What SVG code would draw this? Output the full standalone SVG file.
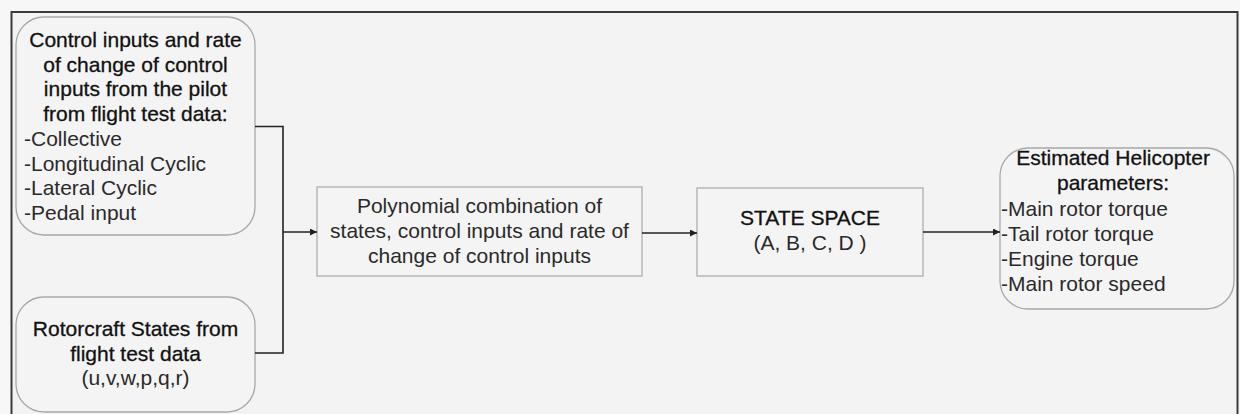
<svg xmlns="http://www.w3.org/2000/svg" width="1240" height="414" viewBox="0 0 1240 414">
<defs>
<style>
.bg{fill:#f7f7f7}
.frame{fill:#f3f3f3;stroke:#3a3a3a;stroke-width:2}
.rnode{fill:#f4f4f4;stroke:#a8a8a8;stroke-width:1.3}
.box{fill:#f4f4f4;stroke:#a8a8a8;stroke-width:1.2}
text{font-family:"Liberation Sans",Arial,sans-serif;font-size:21px;fill:#2a2a2a}
.h{fill:#111;stroke:#111;stroke-width:0.3}
.c{text-anchor:middle}
.conn{fill:none;stroke:#222;stroke-width:1.6}
</style>
<marker id="arr" viewBox="0 0 10 10" refX="10" refY="5" markerWidth="7" markerHeight="7" markerUnits="userSpaceOnUse" orient="auto">
<path d="M0,0 L10,5 L0,10 z" fill="#222"/>
</marker>
</defs>
<rect class="bg" x="0" y="0" width="1240" height="414"/>
<rect class="frame" x="11.5" y="12" width="1226" height="420"/>

<g id="node-control-inputs">
<rect class="rnode" x="16" y="17" width="239" height="218" rx="28" ry="28"/>
<text class="h c" x="135.5" y="47">Control inputs and rate</text>
<text class="h c" x="135.5" y="71.7">of change of control</text>
<text class="h c" x="135.5" y="96.4">inputs from the pilot</text>
<text class="h c" x="135.5" y="121">from flight test data:</text>
<text x="24" y="145.8">-Collective</text>
<text x="24" y="170.5">-Longitudinal Cyclic</text>
<text x="24" y="195">-Lateral Cyclic</text>
<text x="24" y="220">-Pedal input</text>
</g>

<g id="node-rotorcraft-states">
<rect class="rnode" x="16" y="297" width="239" height="115" rx="28" ry="28"/>
<text class="h c" x="135.5" y="336">Rotorcraft States from</text>
<text class="h c" x="135.5" y="360.5">flight test data</text>
<text class="c" x="135.5" y="385">(u,v,w,p,q,r)</text>
</g>

<g id="node-polynomial">
<rect class="box" x="317" y="187" width="325" height="89"/>
<text class="c" x="479.5" y="213">Polynomial combination of</text>
<text class="c" x="479.5" y="237.5">states, control inputs and rate of</text>
<text class="c" x="479.5" y="262.5">change of control inputs</text>
</g>

<g id="node-state-space">
<rect class="box" x="697" y="188" width="226" height="88"/>
<text class="h c" x="810" y="225">STATE SPACE</text>
<text class="c" x="810" y="250">(A, B, C, D )</text>
</g>

<g id="node-estimated">
<rect class="rnode" x="1000" y="148" width="234" height="161" rx="28" ry="28"/>
<text class="h c" x="1113" y="165">Estimated Helicopter</text>
<text class="h c" x="1113" y="190">parameters:</text>
<text x="1001" y="215.5">-Main rotor torque</text>
<text x="1001" y="240.5">-Tail rotor torque</text>
<text x="1001" y="265.5">-Engine torque</text>
<text x="1001" y="290.5">-Main rotor speed</text>
</g>

<g id="connectors">
<polyline class="conn" points="255,126.5 283,126.5 283,353 255,353"/>
<line class="conn" x1="283" y1="232" x2="317" y2="232" marker-end="url(#arr)"/>
<line class="conn" x1="642" y1="233" x2="697" y2="233" marker-end="url(#arr)"/>
<line class="conn" x1="923" y1="232" x2="1000" y2="232" marker-end="url(#arr)"/>
</g>
</svg>
